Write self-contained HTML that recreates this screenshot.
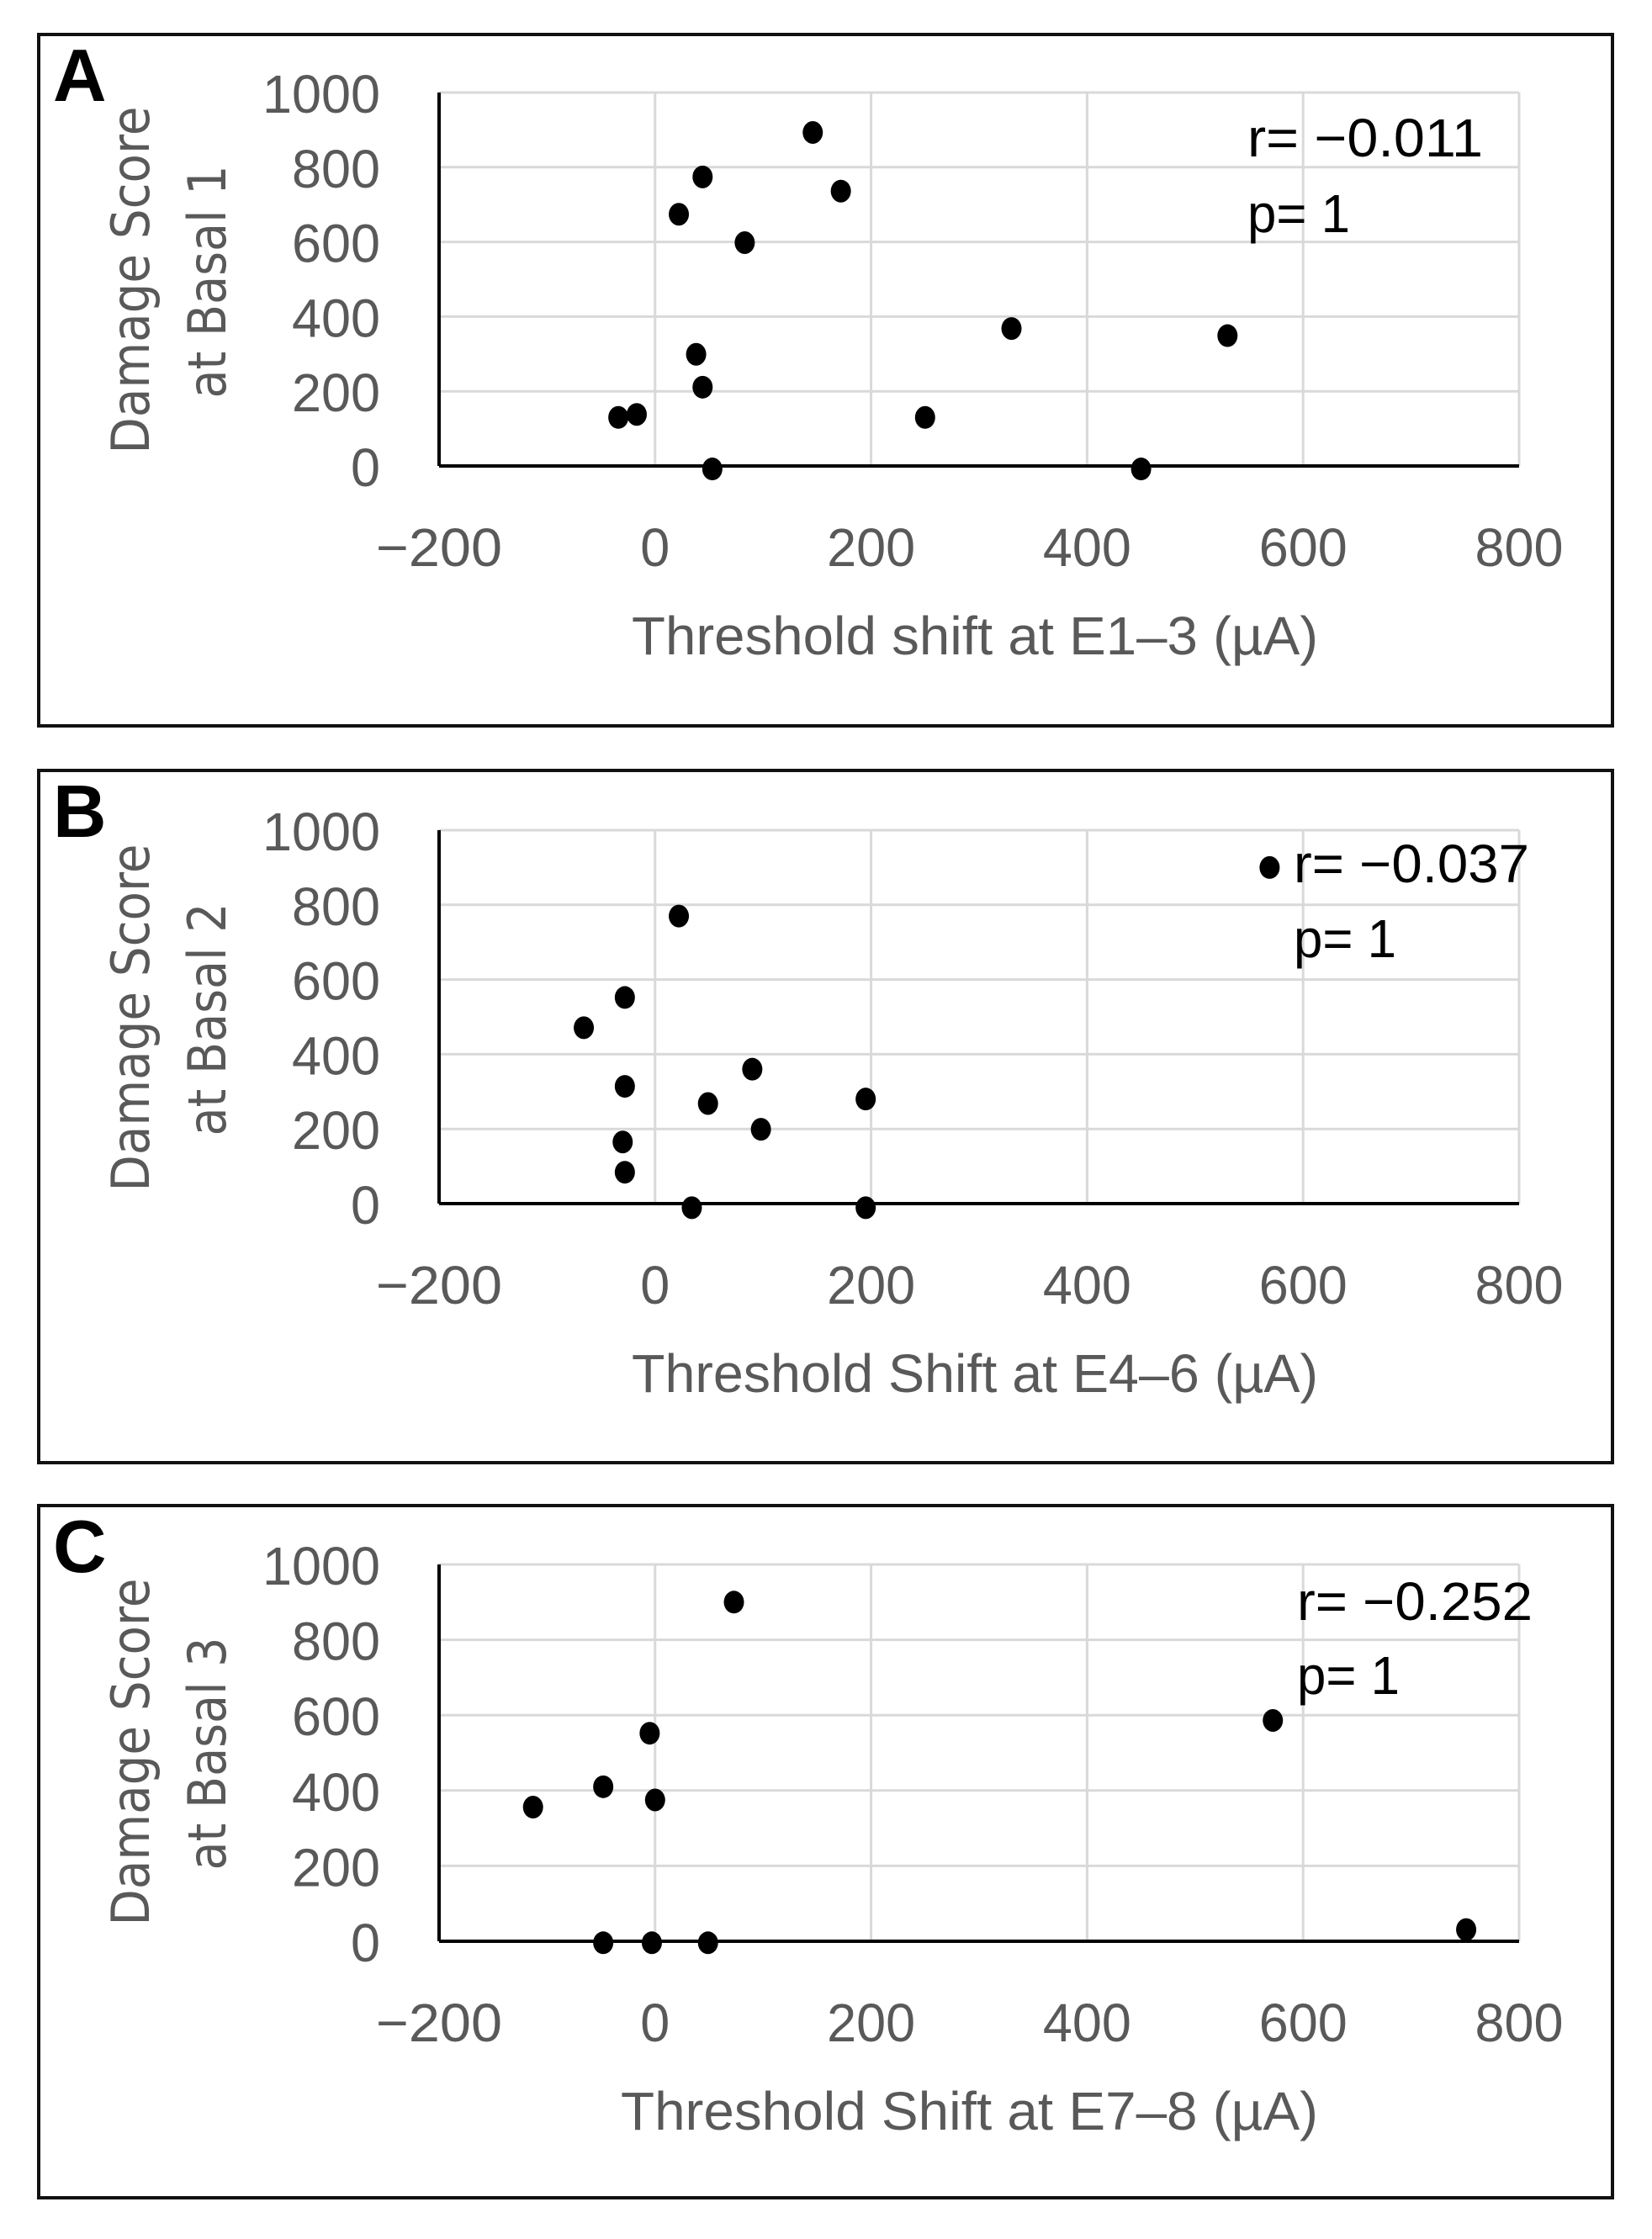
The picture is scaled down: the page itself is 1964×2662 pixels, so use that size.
<!DOCTYPE html>
<html><head><meta charset="utf-8"><style>
html,body{margin:0;padding:0;background:#fff}
svg{display:block}
text{font-family:"Liberation Sans",sans-serif}
</style></head><body>
<svg id="fig" width="1964" height="2662" viewBox="0 0 1964 2662" xmlns="http://www.w3.org/2000/svg"></svg>
<script>
const xTicks = [-200, 0, 200, 400, 600, 800];
const yTicks = [0, 200, 400, 600, 800, 1000];
const panelLabels = ["A", "B", "C"];
const xTitles = ["Threshold shift at E1\u20133 (\u00b5A)", "Threshold Shift at E4\u20136 (\u00b5A)", "Threshold Shift  at E7\u20138 (\u00b5A)"];
const yTitles2 = ["at Basal 1", "at Basal 2", "at Basal 3"];
const rLabels = ["r= \u22120.011", "r= \u22120.037", "r= \u22120.252"];
const pLabels = ["p= 1", "p= 1", "p= 1"];
const aX = [-34, -17, 22, 44, 83, 146, 172, 38, 44, 53, 250, 330, 530, 450];
const aY = [130, 138, 674, 774, 598, 893, 736, 299, 211, -8, 130, 368, 349, -8];
const bX = [22, -66, -28, -28, -30, -28, 90, 49, 98, 195, 34, 195, 569];
const bY = [770, 471, 552, 314, 165, 84, 360, 268, 199, 280, -11, -11, 900];
const cX = [73, -113, -48, -5, 0, 572, 751, -48, -3, 49];
const cY = [900, 356, 410, 552, 375, 586, 31, -4, -4, -4];

const NS = "http://www.w3.org/2000/svg";
const svg = document.getElementById("fig");
function mk(tag, attrs, parent) {
  const e = document.createElementNS(NS, tag);
  for (const k in attrs) e.setAttribute(k, attrs[k]);
  (parent || svg).appendChild(e);
  return e;
}
const panels = [
  {bt: 41, bb: 863, gt: 110, gb: 554, rb: 186, pb: 276, rx: 1483, xs: aX, ys: aY, xtx: 751},
  {bt: 916, bb: 1739, gt: 987, gb: 1431, rb: 1049, pb: 1138, rx: 1538, xs: bX, ys: bY, xtx: 751},
  {bt: 1790, bb: 2613, gt: 1860, gb: 2308, rb: 1926, pb: 2014, rx: 1542, xs: cX, ys: cY, xtx: 738}
];
const L = 522, R = 1806;
panels.forEach((p, i) => {
  const g = mk("g", {});
  
  
  const xs = v => L + (v + 200) / 1000 * (R - L);
  const ys = v => p.gb - v / 1000 * (p.gb - p.gt);
  const frame = mk("rect", {x: 46, y: p.bt, width: 1871, height: p.bb - p.bt, fill: "none", stroke: "#111", "stroke-width": 4}, g);
  
  
  const lab = mk("text", {x: 63, y: p.bt + 79, "font-size": 88, "font-weight": "bold", fill: "#000"}, g);
  lab.textContent = panelLabels[i];
  
  
  yTicks.forEach(t => {
    if (t > 0) {
      const gl = mk("line", {x1: L, x2: R, y1: ys(t), y2: ys(t), stroke: "#d9d9d9", "stroke-width": 3}, g);
      
      
    }
    const tl = mk("text", {x: 452, y: ys(t) + 24, "font-size": 64, fill: "#595959", "text-anchor": "end", textLength: String(t).length * 35, lengthAdjust: "spacingAndGlyphs"}, g);
    tl.textContent = t;
    
    
  });
  xTicks.forEach(t => {
    if (t > -200) {
      const gl = mk("line", {x1: xs(t), x2: xs(t), y1: p.gt, y2: p.gb, stroke: "#d9d9d9", "stroke-width": 3}, g);
      
      
    }
    const s = t < 0 ? "\u2212" + Math.abs(t) : String(t);
    const tl = mk("text", {x: xs(t), y: p.gb + 119, "font-size": 64, fill: "#595959", "text-anchor": "middle", textLength: (t < 0 ? 150 : String(t).length * 35), lengthAdjust: "spacingAndGlyphs"}, g);
    tl.textContent = s;
    
    
  });
  const ya = mk("line", {x1: L, x2: L, y1: p.gt, y2: p.gb, stroke: "#000", "stroke-width": 4}, g);
  
  
  const xa = mk("line", {x1: L, x2: R, y1: p.gb, y2: p.gb, stroke: "#000", "stroke-width": 4}, g);
  
  
  const xt = mk("text", {x: p.xtx, y: p.gb + 224, "font-size": 64, fill: "#595959", textLength: 816 + (751 - p.xtx), lengthAdjust: "spacingAndGlyphs"}, g);
  xt.textContent = xTitles[i];
  
  
  const cy1 = p.gt + 223, cy2 = p.gt + 225;
  const yt1 = mk("text", {x: 0, y: 0, "font-size": 62, fill: "#595959", "text-anchor": "middle", textLength: 413, lengthAdjust: "spacingAndGlyphs", transform: "translate(177," + cy1 + ") rotate(-90)", style: "font-family:'DejaVu Sans',sans-serif"}, g);
  yt1.textContent = "Damage Score";
  
  
  const yt2 = mk("text", {x: 0, y: 0, "font-size": 62, fill: "#595959", "text-anchor": "middle", textLength: 277, lengthAdjust: "spacingAndGlyphs", transform: "translate(268," + cy2 + ") rotate(-90)", style: "font-family:'DejaVu Sans',sans-serif"}, g);
  yt2.textContent = yTitles2[i];
  
  
  const rt = mk("text", {x: p.rx, y: p.rb, "font-size": 64, fill: "#000", textLength: 280, lengthAdjust: "spacingAndGlyphs"}, g);
  rt.textContent = rLabels[i];
  
  
  const pt = mk("text", {x: p.rx, y: p.pb, "font-size": 64, fill: "#000", textLength: 122, lengthAdjust: "spacingAndGlyphs"}, g);
  pt.textContent = pLabels[i];
  
  
  p.xs.forEach((v, j) => {
    const d = mk("ellipse", {cx: xs(v), cy: ys(p.ys[j]), rx: 12, ry: 13.5, fill: "#000"}, g);
    
    
  });
});
</script>
</body></html>
